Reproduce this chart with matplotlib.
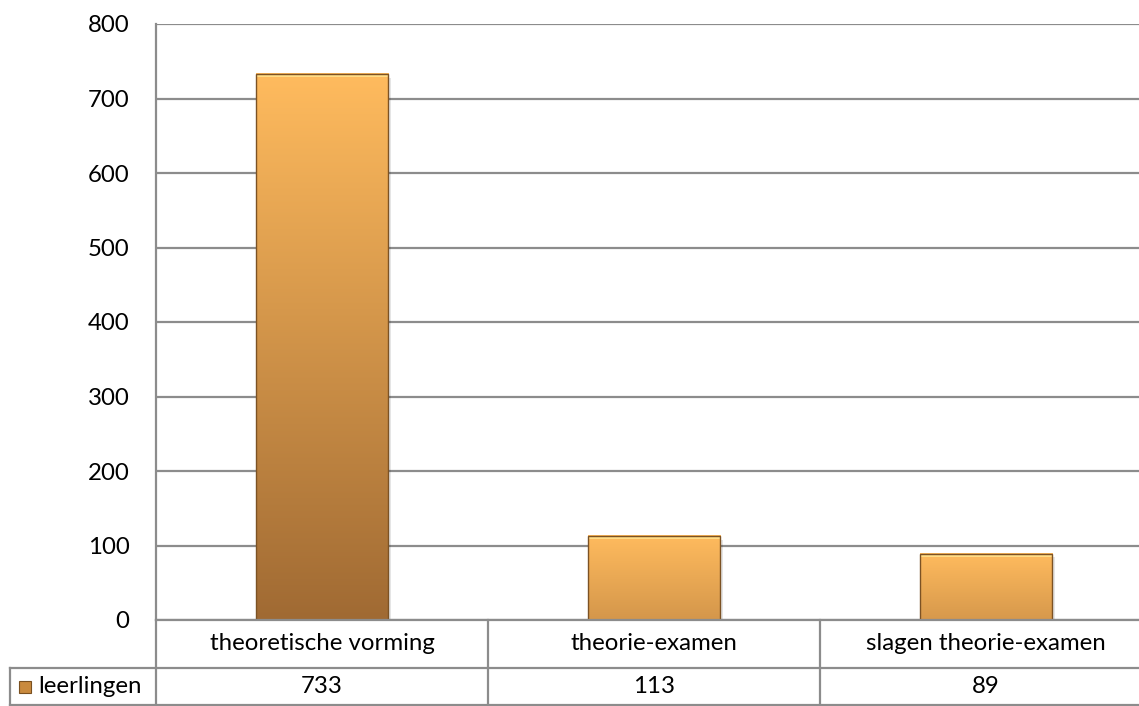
import numpy as np
import matplotlib.pyplot as plt
import matplotlib.colors as mcolors
from matplotlib.patches import Rectangle
from matplotlib.transforms import blended_transform_factory

categories = ["theoretische vorming", "theorie-examen", "slagen theorie-examen"]
values = [733, 113, 89]
series_name = "leerlingen"
yticks = [0, 100, 200, 300, 400, 500, 600, 700, 800]

plt.rcParams["font.family"] = ["Lato", "DejaVu Sans"]
FS = 17.3
GRID = "#8c8c8c"

W, H = 1139, 706
fig = plt.figure(figsize=(W / 100, H / 100), dpi=100)

# plot area: left 156 px, 0 at y=620, 800 at y=24, column width ~332 px
x0, col_w = 156, 332
y0, ytop = 620, 24
ax = fig.add_axes([x0 / W, 1 - y0 / H, 3 * col_w / W, (y0 - ytop) / H])
ax.set_yticks(yticks)
ax.set_yticklabels([str(t) for t in yticks], fontsize=FS)
ax.tick_params(axis="y", length=0, pad=19)
ax.set_xticks([])
for s in ["top", "right", "bottom"]:
    ax.spines[s].set_visible(False)
ax.spines["left"].set_color(GRID)
ax.spines["left"].set_linewidth(1.6)
ax.grid(axis="y", color=GRID, linewidth=1.6)
ax.set_axisbelow(True)

top_c = np.array(mcolors.to_rgb("#ffbb5e"))
dark_c = np.array(mcolors.to_rgb("#a06a33"))
bw = 0.4
vmax = max(values)
for i, v in enumerate(values):
    # drop shadow
    ax.add_patch(Rectangle((i - bw / 2 + 0.008, -5), bw, v, facecolor="#000000",
                           alpha=0.10, edgecolor="none", zorder=2))
    # vertical gradient, darker at the bottom for taller bars
    bot = top_c + (dark_c - top_c) * (0.35 + 0.65 * v / vmax)
    t = np.linspace(0, 1, 256)[:, None]
    grad = top_c[None, :] * (1 - t) + bot[None, :] * t
    img = np.repeat(grad[:, None, :], 2, axis=1)
    ax.imshow(img, extent=(i - bw / 2, i + bw / 2, 0, v), aspect="auto",
              zorder=3, interpolation="bilinear")
    # bevel: light top edge, darker outline
    ax.add_patch(Rectangle((i - bw / 2, v - 4), bw, 4,
                           facecolor="#ffdc86", edgecolor="none", zorder=4))
    ax.add_patch(Rectangle((i - bw / 2, 0), bw, v, facecolor="none",
                           edgecolor="#7c5224", linewidth=1.0, zorder=5))
ax.set_xlim(-0.5, len(categories) - 0.5)
ax.set_ylim(0, 800)

# data table below the plot
tr = blended_transform_factory(ax.transData, fig.transFigure)
ftr = fig.transFigure
r0 = 1 - y0 / H
r1 = 1 - 668 / H
r2 = 1 - 705 / H
xl = 10 / W
xa = x0 / W
kw = dict(color=GRID, linewidth=1.6, clip_on=False)
fig.add_artist(plt.Line2D([xl, 1], [r1, r1], transform=ftr, **kw))
fig.add_artist(plt.Line2D([xl, 1], [r2, r2], transform=ftr, **kw))
fig.add_artist(plt.Line2D([xl, xl], [r1, r2], transform=ftr, **kw))
fig.add_artist(plt.Line2D([xa, xa], [r0, r2], transform=ftr, **kw))
for i in range(1, len(categories)):
    fig.add_artist(plt.Line2D([i - 0.5, i - 0.5], [r0, r2], transform=tr, **kw))
fig.add_artist(plt.Line2D([xa, 1], [r0, r0], transform=ftr, **kw))

for i, (c, v) in enumerate(zip(categories, values)):
    fig.text(i, (r0 + r1) / 2, c, transform=tr, ha="center", va="center", fontsize=FS)
    fig.text(i, (r1 + r2) / 2, str(v), transform=tr, ha="center", va="center", fontsize=FS)

# legend key in the table
ks = 12
fig.add_artist(Rectangle((19 / W, 1 - 693 / H), ks / W, ks / H, transform=ftr,
                         facecolor="#c98a3e", edgecolor="#7a5020", linewidth=0.8))
fig.text(38 / W, (r1 + r2) / 2, series_name, ha="left", va="center", fontsize=FS)

fig.savefig("out.png", dpi=100)
